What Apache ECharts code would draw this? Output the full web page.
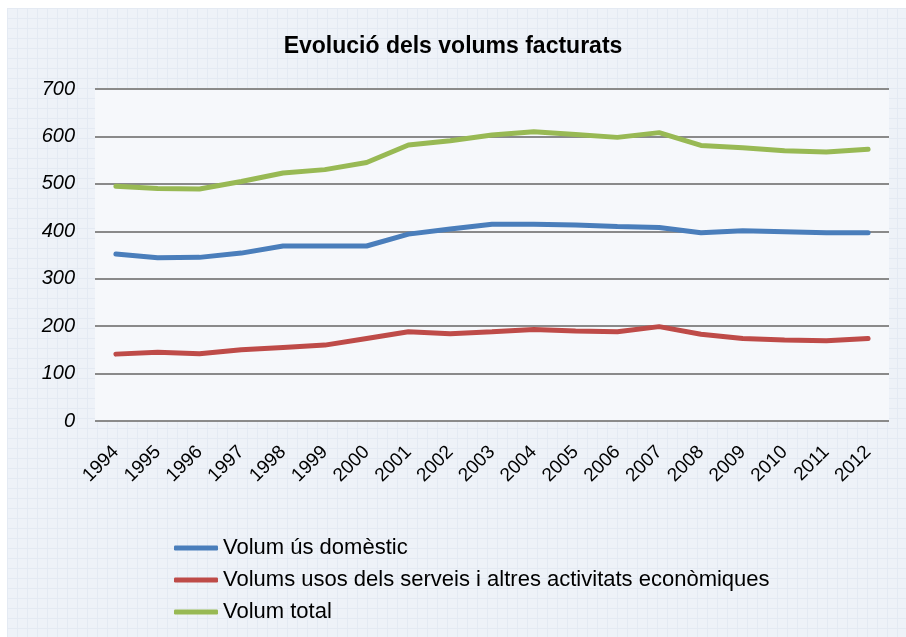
<!DOCTYPE html>
<html>
<head>
<meta charset="utf-8">
<script src="https://cdn.jsdelivr.net/npm/echarts@6/dist/echarts.min.js"></script>
<style>
  html, body { margin: 0; padding: 0; background: #ffffff; }
  #wrap { position: absolute; left: 7px; top: 8px; width: 899px; height: 629px;
    background-color: #eef2f8;
    background-image:
      linear-gradient(#e4eaf3 1px, transparent 1px),
      linear-gradient(90deg, #e4eaf3 1px, transparent 1px);
    background-size: 10px 10px; }
  #main { position: absolute; left: 0; top: 0; width: 906px; height: 637px; }
</style>
</head>
<body>
<div id="wrap"></div>
<div id="main"></div>
<script>
  // anys
  const years = ['1994','1995','1996','1997','1998','1999','2000','2001','2002','2003',
                 '2004','2005','2006','2007','2008','2009','2010','2011','2012']
  // volum ús domèstic
  const domestic = [352,344,345,354,369,369,369,394,405,415,415,413,410,408,397,401,399,397,397]
  // volums serveis i activitats econòmiques
  const services = [141,145,142,150,155,160,174,188,184,188,193,190,188,199,183,174,171,169,174]
  // volum total
  const total = [495,490,489,505,523,530,545,582,591,603,610,604,598,608,581,576,570,567,573]

  const names = ['Volum ús domèstic', 'Volums usos dels serveis i altres activitats econòmiques', 'Volum total']
  const colors = ['#4a7ebb', '#be4b48', '#98b954']

  const chart = echarts.init(document.getElementById('main'))
  const option = {
    animation: false,
    textStyle: { fontFamily: 'Liberation Sans, Arial, sans-serif' },
    title: {
      text: 'Evolució dels volums facturats',
      left: 'center',
      top: 30,
      textStyle: { fontSize: 23, fontWeight: 'bold', color: '#000' }
    },
    legend: {
      orient: 'vertical',
      left: 169,
      top: 532,
      itemWidth: 44,
      itemHeight: 5,
      itemGap: 10,
      icon: 'roundRect',
      data: names,
      textStyle: { fontSize: 22, color: '#000' }
    },
    grid: {
      left: 95,
      right: 17,
      top: 89,
      bottom: 216,
      show: true,
      backgroundColor: '#f6f8fb',
      borderWidth: 0
    },
    xAxis: {
      type: 'category',
      data: years,
      boundaryGap: true,
      axisLine: { show: false },
      axisTick: { show: false },
      axisLabel: { rotate: 45, fontSize: 19, color: '#000', margin: 28 }
    },
    yAxis: {
      type: 'value',
      min: 0,
      max: 700,
      interval: 100,
      axisLine: { show: false },
      axisTick: { show: false },
      axisLabel: { fontSize: 20, fontStyle: 'italic', color: '#000', margin: 20 },
      splitLine: { lineStyle: { color: '#8a8a8a', width: 2 } }
    },
    series: [domestic, services, total].map((d, i) => ({
      name: names[i],
      type: 'line',
      data: d,
      symbol: 'none',
      color: colors[i],
      lineStyle: { width: 5, color: colors[i], cap: 'round' }
    }))
  }
  chart.setOption(option)
</script>
</body>
</html>
